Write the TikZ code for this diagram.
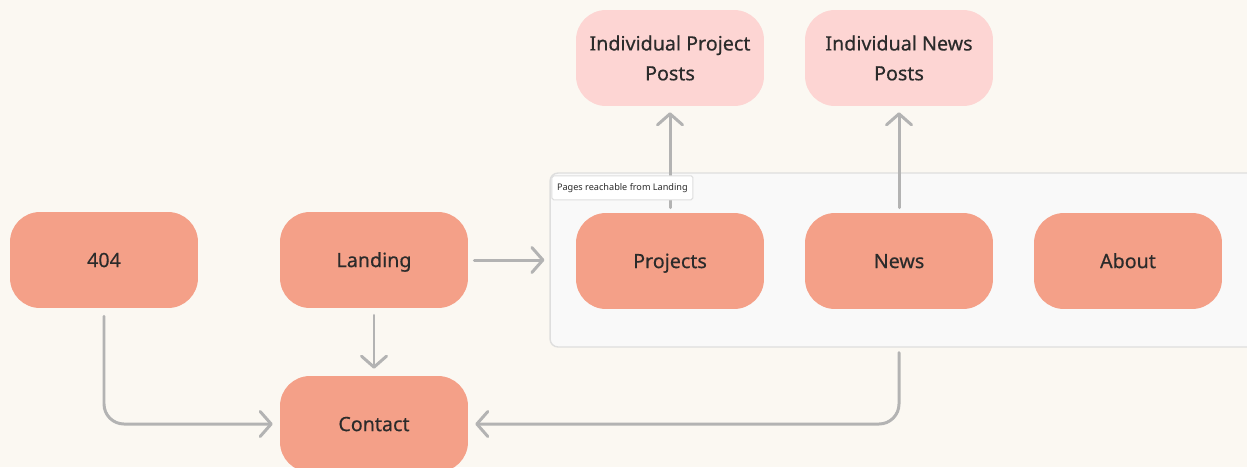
\documentclass[tikz,border=0pt]{standalone}
\usepackage{fontspec}
\setmainfont{Noto Sans}
\newfontfamily\pagefont[FakeBold=0.4]{Noto Sans}
\usetikzlibrary{arrows.meta,positioning}

\definecolor{paper}{HTML}{FBF8F2}
\definecolor{salmon}{HTML}{F4A088}
\definecolor{blush}{HTML}{FDD5D3}
\definecolor{wire}{HTML}{B3B3B3}
\definecolor{ink}{HTML}{2B2B2B}
\definecolor{groupfill}{HTML}{F9F9F9}
\definecolor{groupline}{HTML}{DEDEDE}

\tikzset{
  box/.style={rectangle, rounded corners=0.6cm, text=ink,
    minimum width=3.76cm, minimum height=1.92cm, align=center,
    font=\pagefont\fontsize{11.2}{17}\selectfont},
  page/.style={box, fill=salmon, text height=1.6ex, text depth=0.1ex},
  post/.style={box, fill=blush},
  group/.style={rectangle, rounded corners=0.16cm, fill=groupfill, draw=groupline,
    line width=0.8pt, minimum width=14.24cm, minimum height=3.48cm},
  grouplabel/.style={rectangle, rounded corners=1pt, fill=white, draw=groupline,
    line width=0.6pt, text=ink, font=\fontsize{5.2}{6}\selectfont,
    minimum width=2.82cm, minimum height=0.48cm, inner sep=1pt},
  link/.style={draw=wire, line width=1.7pt, line cap=round,
    -{Straight Barb[length=0.22cm, width=0.5cm, round]}},
}

\begin{document}
\begin{tikzpicture}[x=0.02cm, y=-0.02cm]
    % canvas
    \fill[paper] (0,0) rectangle (1247,467);
    \useasboundingbox (0,0) rectangle (1247,467);

    % pages reachable from the landing page
    \node[group] (reach) at (906,260) {};
    \node[page] (projects) at (670,261) {Projects};
    \node[page] (news) at (899,261) {News};
    \node[page] (about) at (1128,261) {About};

    % single posts
    \node[post] (projposts) at (670,58) {Individual Project\\Posts};
    \node[post] (newsposts) at (899,58) {Individual News\\Posts};

    % entry pages
    \node[page] (e404) at (104,260) {404};
    \node[page] (landing) at (374,260) {Landing};
    \node[page] (contact) at (374,424) {Contact};

    % links
    \draw[link] ([xshift=0.12cm]landing.east) -- ([xshift=-0.1cm]reach.west);
    \draw[link] ([yshift=-0.14cm]landing.south) -- ([yshift=0.14cm]contact.north);
    \draw[link, rounded corners=0.4cm] ([yshift=-0.16cm]e404.south) |- ([xshift=-0.14cm]contact.west);
    \draw[link, rounded corners=0.4cm] ([yshift=-0.1cm]news |- reach.south) |- ([xshift=0.14cm]contact.east);
    \draw[link] ([yshift=0.1cm]projects.north) -- ([yshift=-0.12cm]projposts.south);
    \draw[link] ([yshift=0.1cm]news.north) -- ([yshift=-0.12cm]newsposts.south);

    \node[grouplabel, anchor=north west] (reachlabel) at ([xshift=0.04cm, yshift=-0.06cm]reach.north west) {Pages reachable from Landing};
\end{tikzpicture}
\end{document}
